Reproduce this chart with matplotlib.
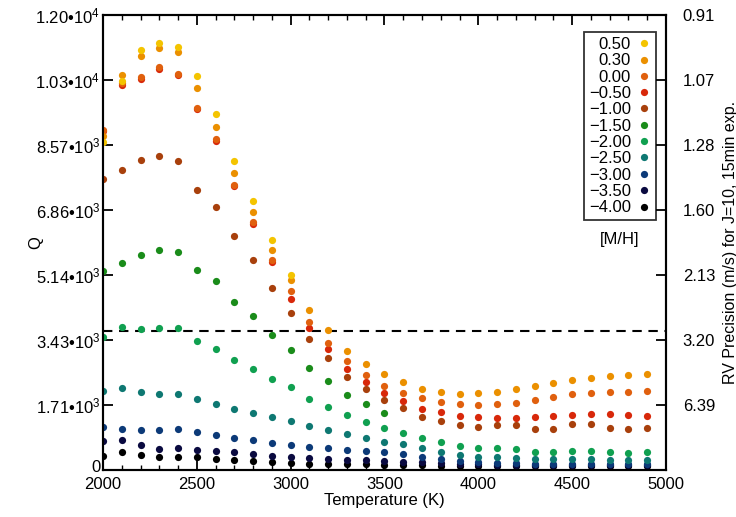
import numpy as np
import matplotlib
matplotlib.use("Agg")
import matplotlib.pyplot as plt
from matplotlib.lines import Line2D
from matplotlib.transforms import ScaledTranslation

plt.rcParams['font.family'] = ['Liberation Sans', 'DejaVu Sans']
plt.rcParams['mathtext.fontset'] = 'custom'
plt.rcParams['mathtext.rm'] = 'Liberation Sans'

nan = np.nan
temps = list(range(2000, 5000, 100))

metallicities = ["0.50", "0.30", "0.00", "\u22120.50", "\u22121.00", "\u22121.50",
                 "\u22122.00", "\u22122.50", "\u22123.00", "\u22123.50", "\u22124.00"]

q_p050 = [8650, 10270, 11090, 11270, 11150, 10390, 9390, 8140, 7090, 6060, 5150,
          nan, nan, nan, nan, nan, nan, nan, nan, nan, nan, nan, nan, nan, nan, nan, nan, nan, nan, nan]
q_p030 = [8810, 10430, 10930, 11130, 11020, 10070, 9050, 7820, 6800, 5800, 5010, 4220, 3690, 3150, 2800,
          2520, 2320, 2130, 2050, 2000, 2020, 2060, 2140, 2220, 2300, 2380, 2430, 2470, 2510, 2540]
q_p000 = [8970, 10200, 10360, 10620, 10450, 9550, 8720, 7520, 6550, 5530, 4710, 3910, 3340, 2870, 2500,
          2220, 2030, 1890, 1790, 1730, 1710, 1740, 1770, 1840, 1920, 2000, 2040, 2060, 2060, 2080]
q_m050 = [8930, 10160, 10320, 10580, 10410, 9510, 8680, 7480, 6500, 5480, 4500, 3740, 3190, 2660, 2310,
          2040, 1820, 1610, 1520, 1420, 1390, 1370, 1370, 1390, 1420, 1450, 1480, 1480, 1450, 1430]
q_m100 = [7670, 7910, 8170, 8280, 8140, 7380, 6930, 6160, 5550, 4790, 4140, 3460, 2960, 2460, 2140,
          1850, 1630, 1410, 1290, 1180, 1130, 1190, 1180, 1080, 1090, 1210, 1210, 1120, 1090, 1120]
q_m150 = [5250, 5470, 5670, 5810, 5760, 5270, 4980, 4440, 4070, 3550, 3160, 2700, 2350, 1990, 1730,
          1500, nan, nan, nan, nan, nan, nan, nan, nan, nan, nan, nan, nan, nan, nan]
q_m200 = [3520, 3760, 3720, 3750, 3750, 3400, 3180, 2890, 2670, 2410, 2180, 1860, 1650, 1440, 1270,
          1120, 980, 850, 750, 640, 570, 570, 550, 470, 470, 500, 500, 470, 460, 470]
q_m250 = [2090, 2160, 2060, 2000, 2010, 1880, 1740, 1620, 1510, 1410, 1290, 1150, 1050, 940, 840,
          750, 680, 570, 480, 400, 350, 330, 310, 280, 280, 280, 280, 260, 260, 260]
q_m300 = [1140, 1090, 1050, 1050, 1080, 990, 920, 840, 780, 710, 650, 600, 570, 540, 500,
          470, 420, 340, 280, 250, 200, 180, 180, 170, 160, 160, 160, 160, 160, 150]
q_m350 = [770, 780, 660, 560, 570, 540, 500, 470, 430, 370, 340, 310, 280, 270, 260,
          240, 220, 200, 180, 160, 150, 130, 130, 120, 120, 120, 120, 120, 120, 120]
q_m400 = [380, 470, 400, 350, 340, 350, 300, 260, 240, 210, 180, 170, 160, 150, 150,
          130, 120, 120, 110, 100, 100, 100, 100, 100, 100, 100, 100, 100, 100, 100]

series = [q_p050, q_p030, q_p000, q_m050, q_m100, q_m150, q_m200, q_m250, q_m300, q_m350, q_m400]
colors = ["#F4C400", "#EB9000", "#E0600E", "#D8280A", "#A8400C", "#1A8C1A",
          "#10A050", "#0E7872", "#0C3A78", "#0A0A40", "#000000"]

q_ticks = [0, 1714.3, 3428.6, 5142.9, 6857.1, 8571.4, 10285.7, 12000]
q_ticklabels = ["0", "1.71\u202210^{3}", "3.43\u202210^{3}", "5.14\u202210^{3}", "6.86\u202210^{3}",
                "8.57\u202210^{3}", "1.03\u202210^{4}", "1.20\u202210^{4}"]
rv_ticks = [1714.3, 3428.6, 5142.9, 6857.1, 8571.4, 10285.7, 12000]
rv_ticklabels = ["6.39", "3.20", "2.13", "1.60", "1.28", "1.07", "0.91"]
q_threshold = 3653  # RV precision = 3 m/s

FS = 12
fig = plt.figure(figsize=(7.36, 5.17), dpi=100)
ax = fig.add_axes([103/736, 1-470/517, (666-103)/736, (470-15)/517])

for vals, col in reversed(list(zip(series, colors))):
    ax.plot(temps, vals, 'o', color=col, ms=5.2, mec='none', zorder=3)

ax.axhline(q_threshold, color='black', lw=1.5, ls=(0, (4.5, 3.2)), zorder=2)

ax.set_xlim(2000, 5000)
ax.set_ylim(0, 12000)
ax.set_xticks([2000, 2500, 3000, 3500, 4000, 4500, 5000])
ax.set_xticks(np.arange(2000, 5001, 100), minor=True)
ax.set_yticks(q_ticks)
ax.set_yticklabels(['$\\mathregular{' + s + '}$' if '^' in s else s for s in q_ticklabels])
ax.tick_params(axis='both', which='major', direction='in', length=7.5, width=1.3, labelsize=FS)
ax.tick_params(axis='y', which='major', pad=2)
ax.tick_params(axis='x', which='major', pad=5)
ax.tick_params(axis='x', which='minor', direction='in', length=3.5, width=1.0, top=True)
ax.tick_params(axis='x', which='major', top=True)
ax.tick_params(axis='y', which='both', right=False)
for sp in ax.spines.values():
    sp.set_linewidth(1.5)

zero_lab = ax.yaxis.get_major_ticks()[0].label1
zero_lab.set_transform(zero_lab.get_transform() + ScaledTranslation(0, 4/100, fig.dpi_scale_trans))

ax.set_xlabel("Temperature (K)", fontsize=FS, labelpad=1)
ax.set_ylabel("Q", fontsize=FS)
ax.yaxis.set_label_coords(-(103-43)/563, 0.5)

ax2 = ax.twinx()
ax2.set_ylim(0, 12000)
ax2.set_yticks(rv_ticks)
ax2.set_yticklabels(rv_ticklabels)
ax2.tick_params(axis='y', direction='in', length=7.5, width=1.3, labelsize=FS, pad=12)
ax2.set_ylabel("RV Precision (m/s) for J=10, 15min exp.", fontsize=11.5, va='center')
ax2.yaxis.set_label_coords((730-103)/563, 0.5)
for sp in ax2.spines.values():
    sp.set_linewidth(1.5)

handles = [Line2D([], [], ls='none', marker='o', color=c, ms=5.2, mec='none') for c in colors]
leg = ax2.legend(handles, metallicities, loc='upper right', bbox_to_anchor=(656/736, 1-32/517),
                 bbox_transform=fig.transFigure, markerfirst=False, frameon=True, fancybox=False,
                 fontsize=FS, handlelength=0.9, handletextpad=0.3, labelspacing=0.08,
                 borderpad=0.3, borderaxespad=0)
leg.get_frame().set_edgecolor('black')
leg.get_frame().set_linewidth(1.3)
leg._legend_box.align = "right"

fig.text(620/736, 1-240/517, "[M/H]", fontsize=FS, ha='center', va='center')

fig.savefig("out.png", dpi=100)
